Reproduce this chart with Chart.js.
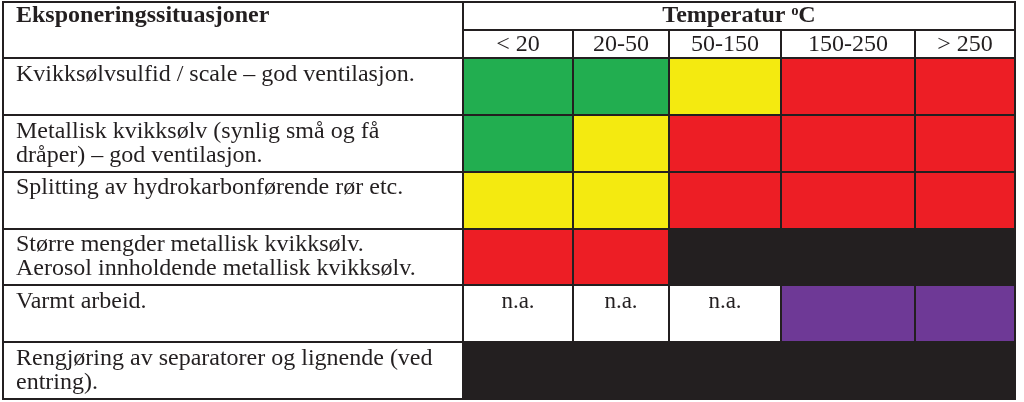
<!DOCTYPE html>
<html>
<head>
<meta charset="utf-8">
<title>Eksponeringssituasjoner</title>
<script src="https://cdn.jsdelivr.net/npm/chart.js@4.4.0/dist/chart.umd.min.js"></script>
<style>
  html, body { margin: 0; padding: 0; background: #fff; }
  #wrap { width: 1024px; height: 402px; }
</style>
</head>
<body>
<div id="wrap"><canvas id="chart"></canvas></div>
<script>
// Table headings
var rowHeader = 'Eksponeringssituasjoner';
var tempTitle = 'Temperatur \u1D52C';

// Temperature classes (columns)
var tempClasses = ['< 20', '20-50', '50-150', '150-250', '> 250'];

// Exposure situations (rows), one entry per text line
var situations = [
    ['Kvikksølvsulfid / scale – god ventilasjon.', ''],
    ['Metallisk kvikksølv (synlig små og få', 'dråper) – god ventilasjon.'],
    ['Splitting av hydrokarbonførende rør etc.', ''],
    ['Større mengder metallisk kvikksølv.', 'Aerosol innholdende metallisk kvikksølv.'],
    ['Varmt arbeid.', ''],
    ['Rengjøring av separatorer og lignende (ved', 'entring).']
];

// Risk class per temperature column, one value per situation
// G = green, Y = yellow, R = red, B = black, P = purple, NA = n.a.
var riskBelow20   = ['G', 'G', 'Y', 'R', 'NA', 'B'];
var risk20to50    = ['G', 'Y', 'Y', 'R', 'NA', 'B'];
var risk50to150   = ['Y', 'R', 'R', 'B', 'NA', 'B'];
var risk150to250  = ['R', 'R', 'R', 'B', 'P',  'B'];
var riskAbove250  = ['R', 'R', 'R', 'B', 'P',  'B'];

var riskColumns = [riskBelow20, risk20to50, risk50to150, risk150to250, riskAbove250];

//--------------------------------------------------------------------
// * Layout / style
//--------------------------------------------------------------------
var riskColors = { G: '#22ae50', Y: '#f4ea10', R: '#ed1e25', B: '#231f20', P: '#6e3996', NA: '#ffffff' };
var colWidths = [110, 96, 112, 134, 100];
var ink = '#231f20';
var serif = "'Liberation Serif', 'Times New Roman', serif";
var labelInset = 13;
var headerSplit = 28;
var lineH = 24;

var colEdges = [0];
colWidths.forEach(function(w, i) { colEdges.push(colEdges[i] + w); });
var colCenters = colWidths.map(function(w, i) { return colEdges[i] + w / 2; });

var datasets = riskColumns.map(function(risks, c) {
    return {
        label: tempClasses[c],
        data: risks.map(function() { return [colEdges[c], colEdges[c + 1]]; }),
        backgroundColor: risks.map(function(r) { return riskColors[r]; }),
        borderWidth: 0,
        grouped: false,
        barPercentage: 1,
        categoryPercentage: 1
    };
});

//--------------------------------------------------------------------
// * Table lines, left header and the n.a. cells
//--------------------------------------------------------------------
var tablePlugin = {
    id: 'tableLines',
    afterDraw: function(chart) {
        var ctx = chart.ctx;
        var x = chart.scales.x, y = chart.scales.y;
        var area = chart.chartArea;
        var left = y.left - labelInset;
        var top = x.top;
        var half = (y.getPixelForValue(1) - y.getPixelForValue(0)) / 2;

        ctx.save();
        ctx.strokeStyle = ink;
        ctx.lineWidth = 2;
        ctx.beginPath();
        // outer box
        ctx.rect(left, top, area.right - left, area.bottom - top);
        // row lines
        for (var i = 0; i < situations.length; i++) {
            var yy = Math.round(y.getPixelForValue(i) - half);
            ctx.moveTo(left, yy);
            ctx.lineTo(area.right, yy);
        }
        // label column divider
        ctx.moveTo(area.left, top);
        ctx.lineTo(area.left, area.bottom);
        // header split under the temperature title
        ctx.moveTo(area.left, top + headerSplit);
        ctx.lineTo(area.right, top + headerSplit);
        // column lines
        for (var c = 1; c < colEdges.length - 1; c++) {
            var xx = Math.round(x.getPixelForValue(colEdges[c]));
            ctx.moveTo(xx, top + headerSplit);
            ctx.lineTo(xx, area.bottom);
        }
        ctx.stroke();

        ctx.fillStyle = ink;
        ctx.textBaseline = 'middle';
        ctx.textAlign = 'left';
        ctx.font = 'bold 24px ' + serif;
        ctx.fillText(rowHeader, y.left, top + 14);

        ctx.textAlign = 'center';
        ctx.font = '23px ' + serif;
        riskColumns.forEach(function(risks, c) {
            risks.forEach(function(r, i) {
                if (r === 'NA') {
                    ctx.fillText('n.a.', x.getPixelForValue(colCenters[c]), y.getPixelForValue(i) - lineH / 2);
                }
            });
        });
        ctx.restore();
    }
};

//--------------------------------------------------------------------
// * Make the chart
//--------------------------------------------------------------------
var ctx = document.getElementById('chart').getContext('2d');
var chart = new Chart(ctx, {
    type: 'bar',
    data: {
        labels: situations,
        datasets: datasets
    },
    plugins: [tablePlugin],
    options: {
        indexAxis: 'y',
        responsive: true,
        maintainAspectRatio: false,
        animation: false,
        layout: { padding: { left: 16, top: 2, right: 9, bottom: 3 } },
        plugins: {
            legend: { display: false },
            tooltip: { enabled: false }
        },
        scales: {
            x: {
                type: 'linear',
                position: 'top',
                min: 0,
                max: colEdges[colEdges.length - 1],
                grid: { display: false, drawTicks: false },
                border: { display: false },
                afterBuildTicks: function(scale) {
                    scale.ticks = colCenters.map(function(v) { return { value: v }; });
                },
                afterFit: function(scale) {
                    scale.height = 56;
                    scale.paddingLeft = 0;
                    scale.paddingRight = 0;
                },
                ticks: {
                    autoSkip: false,
                    maxRotation: 0,
                    padding: 3,
                    color: ink,
                    font: { family: serif, size: 24, lineHeight: '20px' },
                    callback: function(value, index) { return tempClasses[index]; }
                },
                title: {
                    display: true,
                    text: tempTitle,
                    color: ink,
                    padding: { top: 2, bottom: 0 },
                    font: { family: serif, size: 24, weight: 'bold', lineHeight: '24px' }
                }
            },
            y: {
                type: 'category',
                grid: { display: false },
                border: { display: false },
                afterFit: function(scale) {
                    scale.width = 447;
                    scale.paddingTop = 0;
                    scale.paddingBottom = 0;
                },
                ticks: {
                    crossAlign: 'far',
                    autoSkip: false,
                    color: ink,
                    font: { family: serif, size: 24, lineHeight: lineH + 'px' }
                }
            }
        }
    }
});
</script>
</body>
</html>
